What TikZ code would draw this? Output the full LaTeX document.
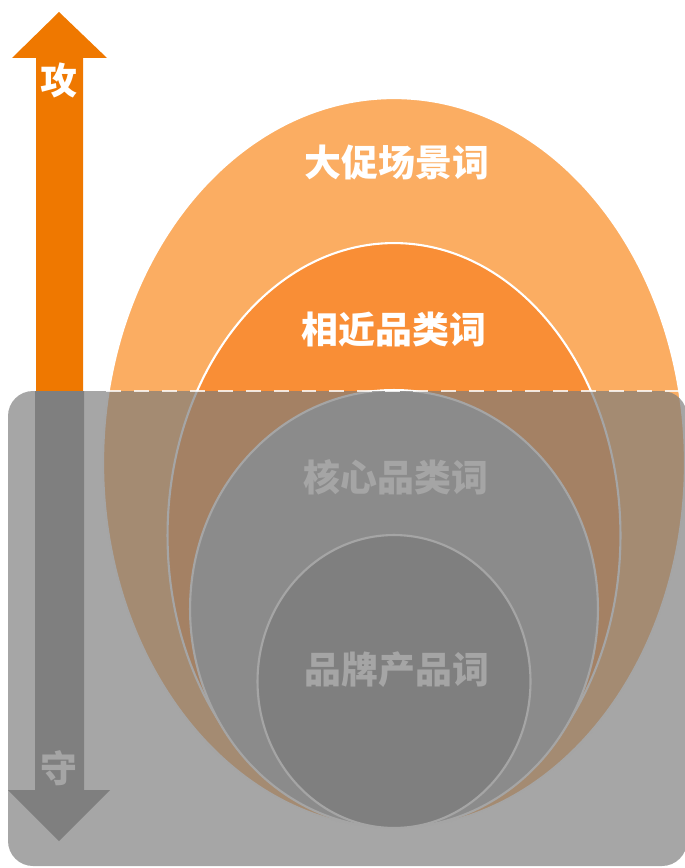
\documentclass[tikz,border=0pt]{standalone}
\usepackage{fontspec}
\newfontfamily\cjk{Noto Sans CJK SC}
\usetikzlibrary{shapes.geometric}
\definecolor{gongorange}{HTML}{EF7800}
\definecolor{outerorange}{HTML}{FBAD62}
\definecolor{midorange}{HTML}{F98E36}
\definecolor{coregray}{HTML}{AFAFAF}
\definecolor{brandgray}{HTML}{8A8A8A}
\definecolor{shadegray}{HTML}{7B7B7B}
\tikzset{ring/.style={ellipse,draw=white,line width=1.2pt,inner sep=0pt},
  word/.style={text=white,font=\cjk\bfseries\fontsize{21}{21}\selectfont}}
\begin{document}
\begin{tikzpicture}[x=0.02cm,y=-0.02cm]
\useasboundingbox (0,0) rectangle (685,868);
\node[ring,fill=outerorange,minimum width=11.64cm,minimum height=14.6cm](big) at (394,463){};
\node[ring,fill=midorange,minimum width=9.06cm,minimum height=11.7cm](near) at (394,535.5){};
\node[ring,fill=coregray,minimum width=8.16cm,minimum height=8.76cm](core) at (394,609){};
\node[ring,fill=brandgray,minimum width=5.46cm,minimum height=5.86cm](brand) at (394,681.5){};
\node[word](bigtxt) at (397,162){大促场景词};
\node[word](neartxt) at (394,330){相近品类词};
\node[word](coretxt) at (396,477){核心品类词};
\node[word](brandtxt) at (397,670){品牌产品词};
% up and down arrows
\fill[gongorange] (36,391) -- (36,58) -- (12,58) -- (59,12) -- (107,58) -- (83,58) -- (83,391) -- cycle;
\node[word](gong) at (59,80){攻};
\fill[brandgray] (35,391) -- (35,790) -- (8,790) -- (59,841) -- (110,790) -- (84,790) -- (84,391) -- cycle;
\node[word](shou) at (59,768){守};
% grey shade
\fill[shadegray,fill opacity=.675,rounded corners=0.5cm] (8,391) rectangle (687,866);
\draw[white,opacity=.8,line width=1.2pt,dash pattern=on 8.5pt off 7.4pt] (106,391) -- (680,391);
\end{tikzpicture}
\end{document}
